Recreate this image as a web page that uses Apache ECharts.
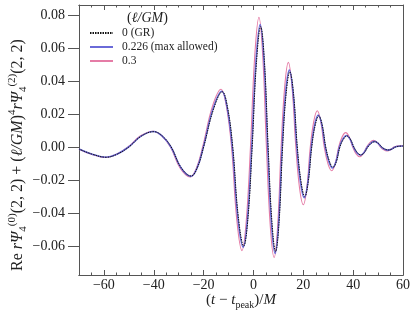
<!DOCTYPE html>
<html>
<head>
<meta charset="utf-8">
<script src="https://cdn.jsdelivr.net/npm/echarts@6/dist/echarts.min.js"></script>
<style>html,body{margin:0;padding:0;background:#fff}#c{width:415px;height:312px}</style>
</head>
<body>
<div id="c"></div>
<script>
// ---- data ----
const tGR = [-70,-65,-59,-54.5,-50,-45,-40,-36.5,-33,-29,-25,-22.5,-20,-16,-12.5,-10.4,-8.3,-6.1,-3.9,-2.2,-0.5,1.2,2.9,4.4,5.9,7.4,8.9,10.3,11.7,13.1,14.6,16.1,17.6,19.1,20.6,22.0,23.4,24.8,26.2,27.6,29.0,30.5,31.9,33.3,34.7,36.1,37.5,38.9,40.3,41.7,43.1,44.5,45.9,47.3,48.7,50.1,51.5,52.8,54.1,55.5,57.0,58.5,60];
const vGR = [-0.0012,-0.0042,-0.0062,-0.0042,0,0.0066,0.0093,0.0066,0,-0.0125,-0.0176,-0.0125,0,0.023,0.0335,0.024,0,-0.042,-0.060,-0.043,0,0.051,0.073,0.052,0,-0.045,-0.0634,-0.045,0,0.032,0.0456,0.032,0,-0.021,-0.030,-0.021,0,0.0133,0.0188,0.0133,0,-0.0087,-0.0123,-0.0087,0,0.0047,0.0067,0.0047,0,-0.0034,-0.0048,-0.0034,0,0.0023,0.0032,0.0023,0,-0.0013,-0.0018,-0.0013,0,0.0005,0.0006];
const tMax = [-70,-65,-59.1,-54.6,-50.1,-45.1,-40.1,-36.6,-33.1,-29.1,-25.1,-22.6,-20.1,-16.2,-12.7,-10.6,-8.5,-6.3,-4.1,-2.4,-0.7,1.0,2.7,4.2,5.7,7.2,8.7,10.1,11.5,12.9,14.4,15.9,17.4,18.9,20.4,21.8,23.2,24.6,26.0,27.4,28.8,30.3,31.7,33.1,34.5,35.9,37.3,38.7,40.1,41.5,42.9,44.3,45.7,47.1,48.5,49.9,51.3,52.6,53.9,55.3,56.8,58.3,60];
const vMax = [-0.0012,-0.0042,-0.0062,-0.0042,0,0.0066,0.0094,0.0066,0,-0.0126,-0.0178,-0.0126,0,0.0233,0.0338,0.0243,0,-0.0425,-0.0607,-0.0436,0,0.0518,0.0742,0.0530,0,-0.0460,-0.0645,-0.0460,0,0.0328,0.0466,0.0328,0,-0.0216,-0.0308,-0.0216,0,0.0137,0.0194,0.0137,0,-0.0090,-0.0127,-0.0090,0,0.0049,0.0070,0.0049,0,-0.0035,-0.0050,-0.0035,0,0.0024,0.0034,0.0024,0,-0.0014,-0.0019,-0.0014,0,0.0005,0.0006];
const t03 = [-70,-65,-59.3,-54.8,-50.3,-45.3,-40.3,-36.8,-33.3,-29.4,-25.4,-22.9,-20.4,-16.5,-13.0,-10.9,-8.8,-6.7,-4.6,-2.9,-1.2,0.5,2.2,3.7,5.2,6.75,8.3,9.7,11.1,12.5,14.0,15.5,17.0,18.5,20.0,21.4,22.8,24.2,25.6,27.0,28.4,29.9,31.4,32.8,34.2,35.6,37.0,38.4,39.8,41.2,42.6,44.0,45.4,46.8,48.2,49.6,51.0,52.3,53.6,55.0,56.4,58,60];
const v03 = [-0.0013,-0.0044,-0.0064,-0.0043,0,0.0068,0.0096,0.0068,0,-0.0128,-0.0181,-0.0128,0,0.0245,0.035,0.025,0,-0.044,-0.0628,-0.045,0,0.055,0.0786,0.056,0,-0.048,-0.067,-0.048,0,0.036,0.0513,0.036,0,-0.025,-0.035,-0.025,0,0.0156,0.022,0.0156,0,-0.0102,-0.0144,-0.0102,0,0.0062,0.0087,0.0062,0,-0.0042,-0.0059,-0.0042,0,0.0028,0.004,0.0028,0,-0.0017,-0.0024,-0.0017,0,0.0006,0.0008];
const xMajor = [-60,-40,-20,0,20,40,60];
const xMinor = [-70,-65,-55,-50,-45,-35,-30,-25,-15,-10,-5,5,10,15,25,30,35,45,50,55];
const yMajor = [-0.06,-0.04,-0.02,0,0.02,0.04,0.06,0.08];
const names = ['0 (GR)','0.226 (max allowed)','0.3'];

const pairs = (t,v) => t.map((x,i)=>[x,v[i]]);
const FONT = 'Liberation Serif';
const AX = '#555';
const fmtNum = (v,d) => (v < 0 ? '\u2212' : '') + Math.abs(v).toFixed(d);
const XMIN=-70, XMAX=60, YMIN=-0.0776, YMAX=0.0861;

function xAx(pos, ticks, len, labels){
  return {type:'value', position:pos, min:XMIN, max:XMAX,
    axisLine:{show:true, onZero:false, lineStyle:{color:AX,width:1}},
    axisTick:{show:true, inside:true, length:len, customValues:ticks, lineStyle:{color:AX,width:1}},
    axisLabel:labels?{show:true, customValues:xMajor, formatter:v=>fmtNum(v,0), fontFamily:FONT, fontSize:14, color:'#222', margin:3}:{show:false},
    splitLine:{show:false}};
}
const xs = [xAx('bottom',xMajor,5,true), xAx('bottom',xMinor,2.5,false), xAx('top',xMajor,5,false), xAx('top',xMinor,2.5,false)];
xs[0].name = '{n|(}{i|t}{n| \u2212 }{i|t}{s|peak}{n|)/}{i|M}';
xs[0].nameLocation = 'middle';
xs[0].nameGap = 15;
xs[0].nameMoveOverlap = false;
xs[0].nameTextStyle = {fontFamily:FONT, color:'#222', rich:{
  n:{fontFamily:FONT,fontSize:15,color:'#222',lineHeight:20,verticalAlign:'middle'},
  i:{fontFamily:FONT,fontSize:15,fontStyle:'italic',color:'#222',lineHeight:20,verticalAlign:'middle'},
  s:{fontFamily:FONT,fontSize:10,color:'#222',lineHeight:10,verticalAlign:'bottom'}}};

const ys = [
  {type:'value', position:'left', min:YMIN, max:YMAX,
    axisLine:{show:true, onZero:false, lineStyle:{color:AX,width:1}},
    axisTick:{show:true, inside:false, length:11, customValues:yMajor, lineStyle:{color:AX,width:1}},
    axisLabel:{show:true, customValues:yMajor, formatter:v=>fmtNum(v,2), fontFamily:FONT, fontSize:14, color:'#222', margin:14},
    splitLine:{show:false},
    name:'{n|Re }{i|r\u03A8}{s|4}{u|(0)}{n|(2, 2) + (}{i|\u2113/GM}{n|)}{u|4}{i|r\u03A8}{s|4}{u|(2)}{n|(2, 2)}',
    nameLocation:'middle', nameGap:50, nameRotate:90, nameMoveOverlap:false,
    nameTextStyle:{fontFamily:FONT, color:'#222', padding:[0,30,0,0], rich:{
      n:{fontFamily:FONT,fontSize:16,color:'#222',lineHeight:22,verticalAlign:'middle'},
      i:{fontFamily:FONT,fontSize:16,fontStyle:'italic',color:'#222',lineHeight:22,verticalAlign:'middle'},
      s:{fontFamily:FONT,fontSize:11,color:'#222',lineHeight:10,verticalAlign:'bottom'},
      u:{fontFamily:FONT,fontSize:11,color:'#222',lineHeight:10,verticalAlign:'top'}}}},
  {type:'value', position:'right', min:YMIN, max:YMAX,
    axisLine:{show:true, onZero:false, lineStyle:{color:AX,width:1}},
    axisTick:{show:false}, axisLabel:{show:false}, splitLine:{show:false}}
];

const chart = echarts.init(document.getElementById('c'), null, {renderer:'canvas'});
chart.setOption({
  animation:false,
  backgroundColor:'#fff',
  grid:{left:79, right:12, top:5, bottom:37, containLabel:false, outerBoundsMode:'none'},
  title:{text:'({i|\u2113/GM})', left:127, top:11, padding:0, textStyle:{fontFamily:FONT, fontSize:14, fontWeight:'normal', color:'#222',
    rich:{i:{fontFamily:FONT,fontSize:14,fontStyle:'italic',color:'#222'}}}},
  legend:{data:names, orient:'vertical', left:89, top:27, padding:0, itemWidth:23, itemHeight:8, itemGap:2,
    itemStyle:{opacity:0, color:'transparent', borderColor:'transparent'},
    textStyle:{fontFamily:FONT, fontSize:11.5, color:'#222', padding:[0,0,0,4]}},
  xAxis:xs, yAxis:ys,
  series:[
    {name:names[2], type:'line', data:pairs(t03,v03), smooth:0.4, symbol:'none', lineStyle:{color:'#e57ca6', width:1.1}, itemStyle:{color:'#e57ca6'}},
    {name:names[1], type:'line', data:pairs(tMax,vMax), smooth:0.4, symbol:'none', lineStyle:{color:'#6a6ad8', width:1.6}, itemStyle:{color:'#6a6ad8'}},
    {name:names[0], type:'line', data:pairs(tGR,vGR), smooth:0.4, symbol:'none', lineStyle:{color:'#111', width:1, type:[1.5,1]}, itemStyle:{color:'#111'}}
  ]
});
</script>
</body>
</html>
